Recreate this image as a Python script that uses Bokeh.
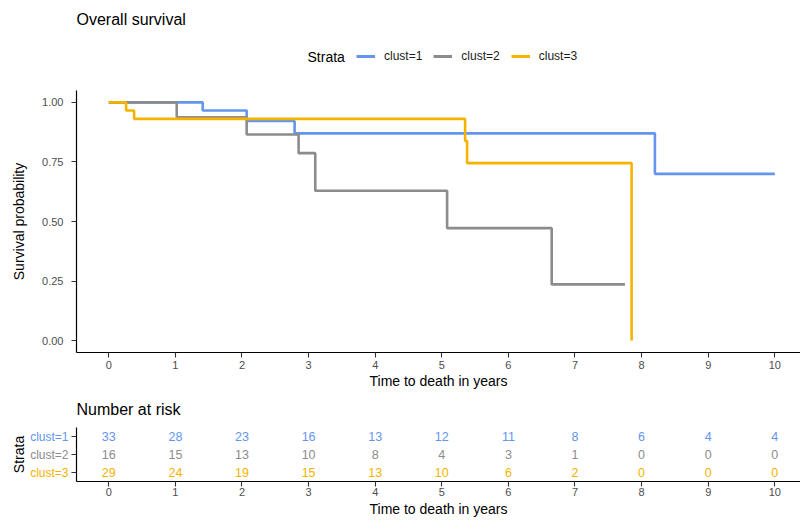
import math
from bokeh.plotting import figure
from bokeh.models import Range1d, Label, Legend, LegendItem, FixedTicker, ColumnDataSource
from bokeh.layouts import column, row
from bokeh.embed import file_html
from bokeh.resources import INLINE
from bokeh.core.properties import value

# ---- data ----
strata = ["clust=1", "clust=2", "clust=3"]
colors = ["#6495ED", "#8C8C8C", "#F5B300"]

time1 = [0, 1.41, 2.07, 2.79, 8.20, 10.0]
surv1 = [1.0, 0.966, 0.922, 0.870, 0.700, 0.700]
time2 = [0, 1.02, 2.07, 2.85, 3.10, 5.08, 6.65, 7.75]
surv2 = [1.0, 0.9375, 0.865, 0.787, 0.629, 0.472, 0.236, 0.236]
time3 = [0, 0.26, 0.38, 5.35, 5.38, 7.85]
surv3 = [1.0, 0.966, 0.931, 0.838, 0.745, 0.0]

risk_times = [0, 1, 2, 3, 4, 5, 6, 7, 8, 9, 10]
risk1 = [33, 28, 23, 16, 13, 12, 11, 8, 6, 4, 4]
risk2 = [16, 15, 13, 10, 8, 4, 3, 1, 0, 0, 0]
risk3 = [29, 24, 19, 15, 13, 10, 6, 2, 0, 0, 0]
strata_rows = [3, 2, 1]

y_ticks = [0.0, 0.25, 0.5, 0.75, 1.0]
x_ticks = [0, 1, 2, 3, 4, 5, 6, 7, 8, 9, 10]

FONT = "Liberation Sans"
X_RANGE = (-0.485, 10.386)
W = 800
FRAME_LEFT = 76


def style_axes(p):
    for ax in (p.xaxis[0], p.yaxis[0]):
        ax.axis_line_color = "black"
        ax.axis_line_width = 1.2
        ax.major_tick_line_color = "#333333"
        ax.major_tick_line_width = 1.1
        ax.major_tick_out = 5
        ax.major_tick_in = 0
        ax.minor_tick_line_color = None
        ax.major_label_text_font = FONT
        ax.major_label_text_font_size = "11px"
        ax.major_label_text_color = "#4D4D4D"
        ax.axis_label_text_font = FONT
        ax.axis_label_text_font_size = "14px"
        ax.axis_label_text_font_style = "normal"
        ax.axis_label_text_color = "black"
    p.xgrid.grid_line_color = None
    p.ygrid.grid_line_color = None
    p.outline_line_color = None
    p.background_fill_color = "white"
    p.border_fill_color = "white"


def blank(p):
    p.axis.visible = False
    p.xgrid.grid_line_color = None
    p.ygrid.grid_line_color = None
    p.outline_line_color = None
    p.background_fill_color = "white"
    p.border_fill_color = "white"


# ---- header: title + legend (frame is aligned with the plot frame: x 76..800) ----
hdr = figure(width=W, height=90, output_backend="svg", toolbar_location=None,
             x_range=Range1d(FRAME_LEFT, W), y_range=Range1d(90, 0),
             min_border_left=0, min_border_right=0, min_border_top=0, min_border_bottom=0)
blank(hdr)
hdr.add_layout(Label(x=FRAME_LEFT, y=19, text="Overall survival", text_font=FONT, text_font_size="16px",
                     text_color="black", text_baseline="middle", text_align="left"))
hdr.add_layout(Label(x=307, y=56, text="Strata", text_font=FONT, text_font_size="14px",
                     text_color="black", text_baseline="middle", text_align="left"))
dummies = [hdr.line(x=[float("nan")], y=[float("nan")], line_color=c, line_width=3) for c in colors]
legend = Legend(items=[LegendItem(label=lab, renderers=[r]) for lab, r in zip(strata, dummies)],
                orientation="horizontal", location=(356 - FRAME_LEFT, 27),
                label_text_font=FONT, label_text_font_size="12px", label_text_color="#1A1A1A",
                glyph_width=19, glyph_height=14, label_height=14, label_standoff=9, spacing=11,
                padding=0, margin=0, border_line_color=None, background_fill_alpha=0)
hdr.add_layout(legend, "center")

# ---- main survival plot ----
p = figure(width=W, height=304, output_backend="svg", toolbar_location=None,
           x_range=Range1d(*X_RANGE), y_range=Range1d(-0.05, 1.05),
           min_border_left=FRAME_LEFT, min_border_right=0, min_border_top=0, min_border_bottom=42)
style_axes(p)
p.xaxis.ticker = FixedTicker(ticks=x_ticks)
p.yaxis.ticker = FixedTicker(ticks=y_ticks)
p.yaxis.major_label_overrides = {t: "%.2f" % t for t in y_ticks}
p.xaxis.axis_label = "Time to death in years"
p.yaxis.axis_label = "Survival probability"
p.xaxis.major_label_standoff = 3
p.xaxis.axis_label_standoff = 1
p.yaxis.major_label_standoff = 8
p.yaxis.axis_label_standoff = 12

for t, s, c in zip([time1, time2, time3], [surv1, surv2, surv3], colors):
    p.step(t, s, mode="after", line_color=c, line_width=2.6)

# ---- risk table header ----
rh = figure(width=W, height=33, output_backend="svg", toolbar_location=None,
            x_range=Range1d(FRAME_LEFT, W), y_range=Range1d(33, 0),
            min_border_left=0, min_border_right=0, min_border_top=0, min_border_bottom=0)
blank(rh)
rh.add_layout(Label(x=FRAME_LEFT, y=15, text="Number at risk", text_font=FONT, text_font_size="16px",
                    text_color="black", text_baseline="middle", text_align="left"))

# ---- risk table ----
risk_y = Range1d(0.5, 3.5)
q = figure(width=W - 71, height=93, output_backend="svg", toolbar_location=None,
           x_range=Range1d(*X_RANGE), y_range=risk_y,
           min_border_left=5, min_border_right=0, min_border_top=0, min_border_bottom=39)
style_axes(q)
q.xaxis.ticker = FixedTicker(ticks=x_ticks)
q.yaxis.ticker = FixedTicker(ticks=strata_rows)
q.yaxis.major_label_overrides = {r: "" for r in strata_rows}
q.yaxis.major_label_text_font_size = "0px"
q.yaxis.major_label_standoff = 0
q.xaxis.axis_label = "Time to death in years"
q.xaxis.major_label_standoff = 1
q.xaxis.axis_label_standoff = 2

for row_vals, c, ypos in zip([risk1, risk2, risk3], colors, strata_rows):
    src = ColumnDataSource(dict(x=risk_times, y=[ypos] * len(risk_times), t=[str(v) for v in row_vals]))
    q.text(x="x", y="y", text="t", source=src, text_color=c, text_font=value(FONT),
           text_font_size="12.5px", text_align="center", text_baseline="middle")

# left column with coloured strata labels
lf = figure(width=71, height=93, output_backend="svg", toolbar_location=None,
            x_range=Range1d(0, 71), y_range=risk_y,
            min_border_left=0, min_border_right=0, min_border_top=0, min_border_bottom=39)
blank(lf)
lsrc = ColumnDataSource(dict(x=[68] * 3, y=strata_rows, t=strata, c=colors))
lf.text(x="x", y="y", text="t", text_color="c", source=lsrc, text_font=value(FONT),
        text_font_size="12px", text_align="right", text_baseline="middle")
lf.text(x=[18], y=[2], text=["Strata"], angle=math.pi / 2, text_font=value(FONT),
        text_font_size="14px", text_color="black", text_align="center", text_baseline="middle")

layout = column(hdr, p, rh, row(lf, q, spacing=0), spacing=0)
open("out.html", "w").write(file_html(layout, INLINE))
